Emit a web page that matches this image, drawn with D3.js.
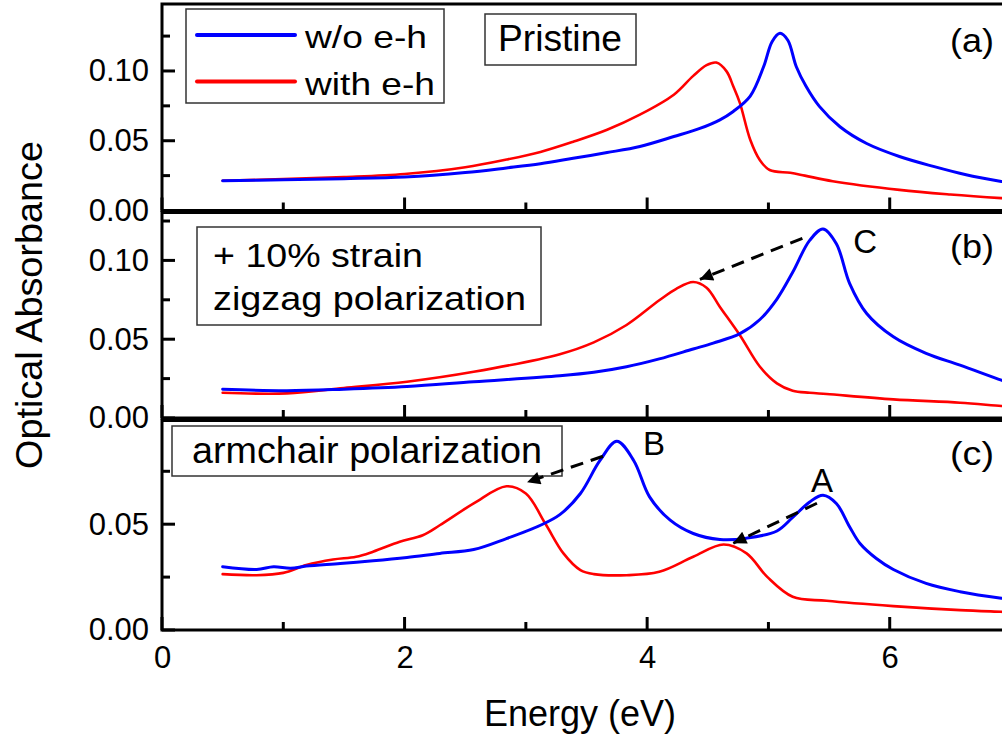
<!DOCTYPE html>
<html lang="en">
<head>
  <meta charset="utf-8" />
  <style>
    body { margin: 0; background: #fff; }
    svg { display: block; font-family: Arial, "Liberation Sans", sans-serif; }
    .frame { fill: none; stroke: #000; stroke-width: 3px; }
    .tick text { font-size: 31px; fill: #000; }
    .box { fill: #fff; stroke: #333; stroke-width: 1.5px; }
    .curve { fill: none; stroke-linejoin: round; stroke-linecap: round; }
  </style>
</head>
<body>
<script src="https://d3js.org/d3.v7.min.js"></script>
<script>
// ---- data (energy in eV, absorbance) ----
var pristineWoE = [0.5, 1.0, 1.5, 2.0, 2.5, 2.84, 3.12, 3.39, 3.67, 3.94, 4.22, 4.44, 4.6, 4.71, 4.85, 4.96, 5.03, 5.095, 5.16, 5.23, 5.31, 5.42, 5.59, 5.81, 6.08, 6.36, 6.63, 6.92, 7.0];
var pristineWo  = [0.0213, 0.022, 0.0228, 0.024, 0.0272, 0.0305, 0.0335, 0.0374, 0.0415, 0.0459, 0.053, 0.059, 0.065, 0.071, 0.082, 0.103, 0.121, 0.127, 0.122, 0.103, 0.089, 0.0746, 0.060, 0.048, 0.0387, 0.0316, 0.0256, 0.0208, 0.0197];
var pristineWithE = [0.5, 1.0, 1.5, 2.0, 2.5, 2.84, 3.12, 3.39, 3.67, 3.94, 4.22, 4.38, 4.49, 4.57, 4.655, 4.71, 4.765, 4.85, 4.93, 5.01, 5.18, 5.3, 5.53, 6.08, 6.5, 6.92, 7.0];
var pristineWith  = [0.0213, 0.0225, 0.024, 0.0262, 0.031, 0.0365, 0.042, 0.0493, 0.0579, 0.0687, 0.083, 0.0965, 0.1042, 0.106, 0.0997, 0.089, 0.077, 0.0507, 0.036, 0.029, 0.027, 0.025, 0.021, 0.0148, 0.0115, 0.0089, 0.0085];

var zigzagWoE = [0.5, 1.03, 1.5, 2.02, 2.57, 3.28, 3.56, 3.83, 4.1, 4.38, 4.545, 4.765, 4.93, 5.07, 5.2, 5.34, 5.45, 5.56, 5.67, 5.81, 6.03, 6.3, 6.58, 6.92, 7.0];
var zigzagWo  = [0.0182, 0.0173, 0.0183, 0.020, 0.023, 0.0268, 0.029, 0.0325, 0.0375, 0.0438, 0.0475, 0.0535, 0.0625, 0.0755, 0.0925, 0.1127, 0.120, 0.1106, 0.0853, 0.0663, 0.0515, 0.041, 0.0335, 0.024, 0.022];
var zigzagWithE = [0.5, 1.03, 1.5, 2.02, 2.57, 3.28, 3.56, 3.83, 4.1, 4.24, 4.38, 4.49, 4.6, 4.765, 4.93, 5.07, 5.2, 5.34, 5.48, 6.03, 6.58, 6.92, 7.0];
var zigzagWith  = [0.016, 0.0156, 0.019, 0.023, 0.0293, 0.0405, 0.048, 0.059, 0.0747, 0.082, 0.0863, 0.0827, 0.0705, 0.0525, 0.0325, 0.022, 0.0173, 0.016, 0.0152, 0.0118, 0.0097, 0.0076, 0.0073];

var armchairWoE = [0.5, 0.78, 0.92, 1.06, 1.19, 1.47, 1.74, 2.02, 2.29, 2.57, 2.84, 3.12, 3.28, 3.45, 3.61, 3.75, 3.89, 4.02, 4.19, 4.38, 4.6, 4.82, 5.07, 5.2, 5.34, 5.45, 5.56, 5.67, 5.755, 5.89, 6.03, 6.3, 6.58, 6.92, 7.0];
var armchairWo  = [0.0299, 0.0286, 0.0299, 0.0292, 0.0302, 0.0314, 0.0327, 0.0343, 0.0362, 0.038, 0.0432, 0.0495, 0.0545, 0.0645, 0.080, 0.0892, 0.080, 0.0629, 0.0519, 0.0456, 0.0428, 0.0434, 0.0468, 0.0532, 0.0605, 0.0637, 0.0598, 0.0487, 0.0409, 0.0338, 0.0286, 0.022, 0.0181, 0.015, 0.0145];
var armchairWithE = [0.5, 0.78, 1.0, 1.19, 1.41, 1.6, 1.74, 1.96, 2.15, 2.29, 2.57, 2.84, 3.0, 3.16, 3.31, 3.45, 3.56, 3.83, 4.1, 4.38, 4.63, 4.82, 4.99, 5.2, 5.48, 6.03, 6.58, 6.92, 7.0];
var armchairWith  = [0.0264, 0.0259, 0.027, 0.0307, 0.0333, 0.0346, 0.037, 0.0417, 0.0448, 0.0495, 0.0598, 0.0679, 0.0645, 0.0503, 0.0362, 0.0283, 0.0264, 0.0259, 0.0275, 0.0346, 0.0404, 0.0362, 0.0251, 0.0157, 0.0138, 0.0113, 0.0094, 0.0086, 0.0084];

var xMajor = [0, 2, 4, 6];
var xMinor = [1, 3, 5, 7];
var yMajor = [0, 0.05, 0.10];
var yMinor = [0.025, 0.075, 0.125];

// arrows: [fromE, fromA, toE, toA]
var arrowC = [5.28, 0.114, 4.435, 0.088];
var arrowB = [3.636, 0.0821, 3.01, 0.0698];
var arrowA = [5.40, 0.0599, 4.71, 0.041];

var panels = [
  { top: 4,   bottom: 210.5, ymax: 0.148, wo: [pristineWoE, pristineWo], wi: [pristineWithE, pristineWith], tag: "(a)", tagY: 52 },
  { top: 212.5, bottom: 418, ymax: 0.1304, wo: [zigzagWoE, zigzagWo], wi: [zigzagWithE, zigzagWith], tag: "(b)", tagY: 258 },
  { top: 420.5, bottom: 630, ymax: 0.099, wo: [armchairWoE, armchairWo], wi: [armchairWithE, armchairWith], tag: "(c)", tagY: 465 }
];

var svg = d3.select("body").append("svg")
  .attr("width", 1002)
  .attr("height", 738);

svg.append("defs").append("marker")
  .attr("id", "head")
  .attr("viewBox", "0 0 10 10")
  .attr("refX", 10).attr("refY", 5)
  .attr("markerUnits", "userSpaceOnUse")
  .attr("markerWidth", 22).attr("markerHeight", 13)
  .attr("orient", "auto")
  .append("path")
    .attr("d", "M0,0 L10,5 L0,10 z")
    .attr("fill", "#000");

var x = d3.scaleLinear().domain([0, 7]).range([162, 1011]);

// inward tick marks, drawn as plain lines from the scales
function yTicks(g, y, vals, len) {
  g.append("g").selectAll("line").data(vals).join("line")
    .attr("x1", x(0)).attr("x2", x(0) + len)
    .attr("y1", function(d) { return y(d); })
    .attr("y2", function(d) { return y(d); })
    .attr("stroke", "#000").attr("stroke-width", 3);
}
function xTicks(g, yPos, vals, len) {
  g.append("g").selectAll("line").data(vals).join("line")
    .attr("x1", function(d) { return x(d); })
    .attr("x2", function(d) { return x(d); })
    .attr("y1", yPos).attr("y2", yPos - len)
    .attr("stroke", "#000").attr("stroke-width", 3);
}

panels.forEach(function(p, i) {
  var y = d3.scaleLinear().domain([0, p.ymax]).range([p.bottom, p.top]);
  p.y = y;
  var g = svg.append("g");

  var line = d3.line()
    .x(function(d) { return x(d[0]); })
    .y(function(d) { return y(d[1]); })
    .curve(d3.curveCatmullRom.alpha(0.5));

  [[p.wi, "#ff0000", 2.6], [p.wo, "#0000ff", 3]].forEach(function(s) {
    g.append("path")
      .datum(d3.zip(s[0][0], s[0][1]))
      .attr("class", "curve")
      .attr("stroke", s[1])
      .attr("stroke-width", s[2])
      .attr("d", line);
  });

  var inRange = function(v) { return v <= p.ymax; };

  // tick labels through d3 axes
  g.append("g").attr("transform", "translate(" + x(0) + ",0)")
    .call(d3.axisLeft(y).tickValues(yMajor.filter(inRange)).tickSize(0).tickPadding(13).tickFormat(d3.format(".2f")))
    .call(function(a) { a.select(".domain").remove(); a.selectAll(".tick line").remove(); });
  if (i === 2) {
    g.append("g").attr("transform", "translate(0," + p.bottom + ")")
      .call(d3.axisBottom(x).tickValues(xMajor).tickSize(0).tickPadding(16).tickFormat(d3.format("d")))
      .call(function(a) { a.select(".domain").remove(); a.selectAll(".tick line").remove(); });
  }

  g.append("rect").attr("class", "frame")
    .attr("x", x(0)).attr("y", p.top)
    .attr("width", x(7) - x(0)).attr("height", p.bottom - p.top);

  yTicks(g, y, yMajor.filter(inRange), 13);
  yTicks(g, y, yMinor.filter(inRange), 8);
  xTicks(g, p.bottom, xMajor, 13);
  xTicks(g, p.bottom, xMinor, 8);

  g.append("text")
    .attr("x", 950).attr("y", p.tagY)
    .attr("font-size", 33)
    .attr("textLength", 44).attr("lengthAdjust", "spacingAndGlyphs")
    .text(p.tag);
});

// legend
var leg = svg.append("g");
leg.append("rect").attr("class", "box").attr("x", 186).attr("y", 9).attr("width", 258).attr("height", 94);
[["w/o e-h", "#0000ff", 35, 48, 122], ["with e-h", "#ff0000", 81.5, 95, 130]].forEach(function(l) {
  leg.append("line").attr("x1", 197).attr("x2", 295).attr("y1", l[2]).attr("y2", l[2])
    .attr("stroke", l[1]).attr("stroke-width", 4).attr("stroke-linecap", "round");
  leg.append("text").attr("x", 305).attr("y", l[3]).attr("font-size", 32)
    .attr("textLength", l[4]).attr("lengthAdjust", "spacingAndGlyphs").text(l[0]);
});

// annotation boxes
svg.append("rect").attr("class", "box").attr("x", 485).attr("y", 14).attr("width", 151).attr("height", 51);
svg.append("text").attr("x", 498).attr("y", 51).attr("font-size", 36)
  .attr("textLength", 124).attr("lengthAdjust", "spacingAndGlyphs").text("Pristine");

svg.append("rect").attr("class", "box").attr("x", 197).attr("y", 227).attr("width", 344).attr("height", 98);
svg.append("text").attr("x", 213).attr("y", 267).attr("font-size", 33)
  .attr("textLength", 210).attr("lengthAdjust", "spacingAndGlyphs").text("+ 10% strain");
svg.append("text").attr("x", 213).attr("y", 310).attr("font-size", 33)
  .attr("textLength", 313).attr("lengthAdjust", "spacingAndGlyphs").text("zigzag polarization");

svg.append("rect").attr("class", "box").attr("x", 172).attr("y", 426).attr("width", 390).attr("height", 50);
svg.append("text").attr("x", 192).attr("y", 463).attr("font-size", 37)
  .attr("textLength", 350).attr("lengthAdjust", "spacingAndGlyphs").text("armchair polarization");

// arrows and peak labels
[[arrowC, panels[1]], [arrowB, panels[2]], [arrowA, panels[2]]].forEach(function(a) {
  var d = a[0], y = a[1].y;
  svg.append("line")
    .attr("x1", x(d[0])).attr("y1", y(d[1]))
    .attr("x2", x(d[2])).attr("y2", y(d[3]))
    .attr("stroke", "#000").attr("stroke-width", 3)
    .attr("stroke-dasharray", "13,8")
    .attr("marker-end", "url(#head)");
});
[["C", 5.70, 0.105, panels[1]], ["B", 3.965, 0.0825, panels[2]], ["A", 5.35, 0.0652, panels[2]]].forEach(function(t) {
  svg.append("text").attr("x", x(t[1])).attr("y", t[3].y(t[2]))
    .attr("font-size", 33).text(t[0]);
});

// axis titles
svg.append("text")
  .attr("transform", "translate(42,305) rotate(-90)")
  .attr("text-anchor", "middle")
  .attr("font-size", 36)
  .attr("textLength", 328).attr("lengthAdjust", "spacingAndGlyphs")
  .text("Optical Absorbance");
svg.append("text")
  .attr("x", 580).attr("y", 726)
  .attr("text-anchor", "middle")
  .attr("font-size", 36)
  .text("Energy (eV)");
</script>
</body>
</html>
